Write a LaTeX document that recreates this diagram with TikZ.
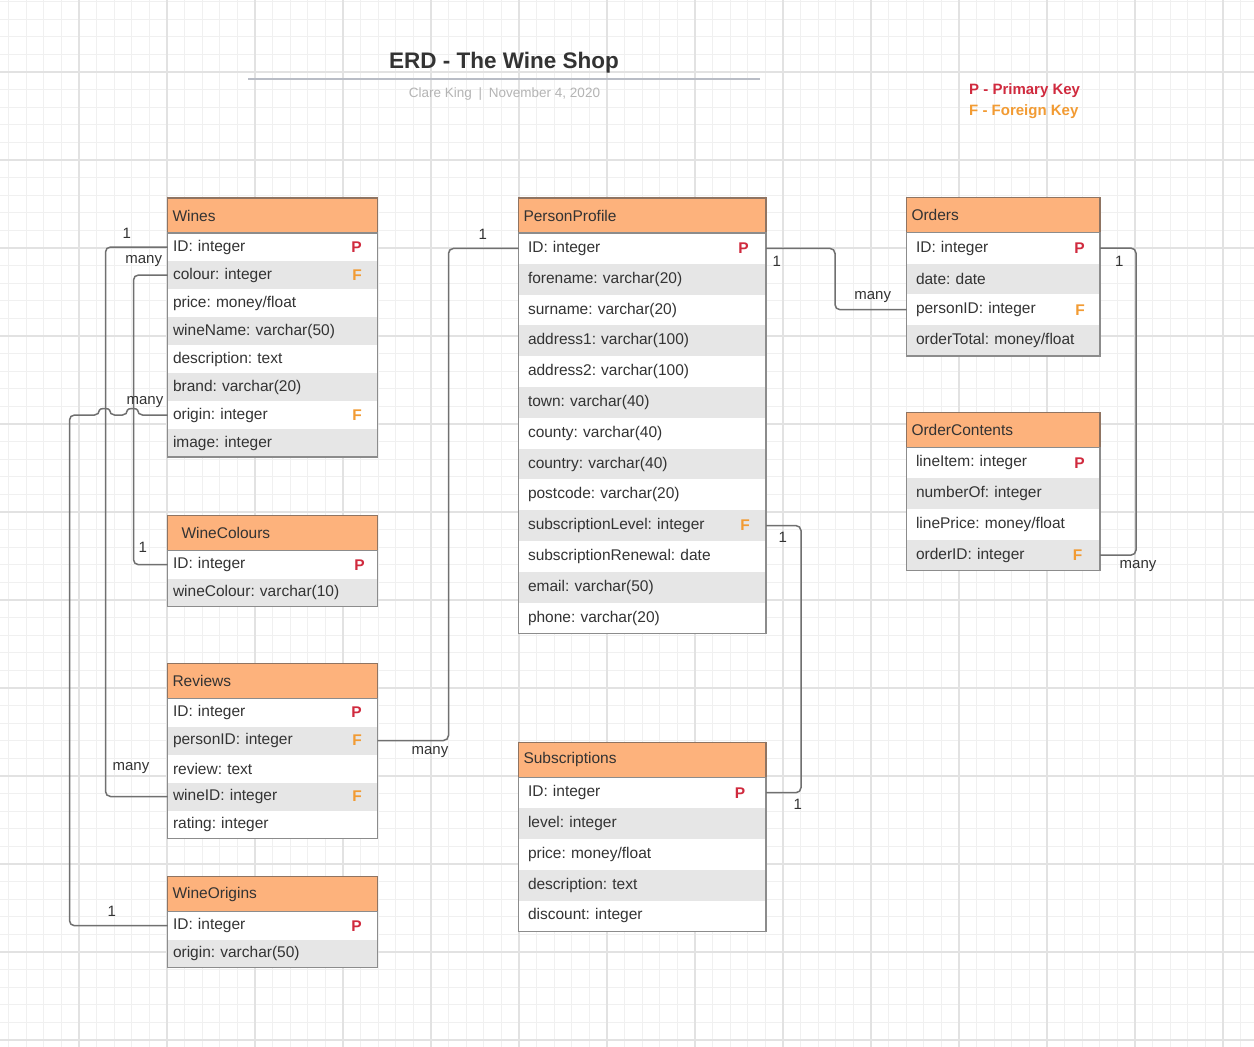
\documentclass[tikz,border=0pt]{standalone}
\usepackage{fontspec}
\setmainfont{Liberation Sans}
\usetikzlibrary{calc, positioning}
\frenchspacing
\definecolor{headfill}{HTML}{FDB27C}
\definecolor{headline}{HTML}{8F7462}
\definecolor{row1}{HTML}{FFFFFF}
\definecolor{row0}{HTML}{E6E6E6}
\definecolor{tblgray}{HTML}{8C8C8C}
\definecolor{conngray}{HTML}{707070}
\definecolor{txtgray}{HTML}{333333}
\definecolor{subgray}{HTML}{B4B4B4}
\definecolor{keyred}{HTML}{D02A3E}
\definecolor{keyorange}{HTML}{F29B33}
\definecolor{gridminor}{HTML}{F0F0F0}
\definecolor{gridmajor}{HTML}{E2E2E2}
\definecolor{titleline}{HTML}{B9BDC6}
\tikzstyle{tblhead} = [rectangle, draw=headline, fill=headfill, line width=1.5pt, outer sep=0pt, anchor=north west, minimum height=35pt, inner xsep=5pt, inner ysep=0pt, align=left, text=txtgray, font=\fontsize{15.5}{18}\selectfont]
\tikzstyle{tblrow} = [rectangle, outer sep=0pt, anchor=north west, inner ysep=0pt, align=left, text=txtgray, font=\fontsize{15.5}{18}\selectfont]
\tikzstyle{lrow} = [tblrow, text width=199pt, inner xsep=5.5pt, minimum height=28pt]
\tikzstyle{prow} = [tblrow, text width=228.5pt, inner xsep=9.5pt, minimum height=30.8pt]
\tikzstyle{orow} = [tblrow, text width=174.5pt, inner xsep=9.5pt, minimum height=30.8pt]
\tikzstyle{tblline} = [draw=tblgray, line width=1.5pt]
\tikzstyle{keyP} = [inner sep=0pt, text=keyred, font=\fontsize{15.5}{18}\selectfont\bfseries]
\tikzstyle{keyF} = [inner sep=0pt, text=keyorange, font=\fontsize{15.5}{18}\selectfont\bfseries]
\tikzstyle{conn} = [draw=conngray, line width=1.5pt, rounded corners=5pt]
\tikzstyle{card} = [inner sep=0pt, text=txtgray, font=\fontsize{15}{18}\selectfont]
\tikzstyle{jump} = [to path={.. controls ($(\tikztostart)+(0,-7)$) and ($(\tikztotarget)+(0,-7)$) .. (\tikztotarget)}]
\begin{document}
\begin{tikzpicture}[x=1pt, y=-1pt]
	\useasboundingbox [fill=white] (0,0) rectangle (1254,1047);
	% background grid
	\foreach \gx in {0,...,70} \draw [gridminor, line width=1pt] ({8.6+\gx*17.6},0) -- ++(0,1047);
	\foreach \gy in {0,...,59} \draw [gridminor, line width=1pt] (0,{1.6+\gy*17.6}) -- ++(1254,0);
	\foreach \gx in {0,...,13} \draw [gridmajor, line width=1.3pt] ({79+\gx*88},0) -- ++(0,1047);
	\foreach \gy in {0,...,11} \draw [gridmajor, line width=1.3pt] (0,{72+\gy*88}) -- ++(1254,0);

	% title and legend
	\node (title) [text=txtgray, font=\fontsize{22.5}{27}\selectfont\bfseries] at (504,63) {ERD - The Wine Shop};
	\draw [titleline, line width=2.5pt] (248,79) -- (760,79);
	\node (byline) [text=subgray, font=\fontsize{13.5}{16}\selectfont] at (504.5,94) {Clare King\enspace|\enspace November 4, 2020};
	\node (legendP) [anchor=west, inner sep=0pt, text=keyred, font=\fontsize{15}{18}\selectfont\bfseries] at (969,91) {P - Primary Key};
	\node (legendF) [anchor=west, inner sep=0pt, text=keyorange, font=\fontsize{15}{18}\selectfont\bfseries] at (969,112) {F - Foreign Key};

	% Wines
	\node (wines) [tblhead, text width=200pt] at (167.5,198) {Wines};
	\foreach \f [count=\i] in {ID: integer, colour: integer, price: money/float, wineName: varchar(50), description: text, brand: varchar(20), origin: integer, image: integer}{
		\pgfmathtruncatemacro{\rowc}{mod(\i,2)}
		\node (wines-\i) [lrow, fill=row\rowc, yshift={-(\i-1)*28pt}] at (wines.south west) {\f};
	}
	% WineColours
	\node (winecolours) [tblhead, text width=200pt] at (167.5,515.7) {\hspace*{9pt}WineColours};
	\foreach \f [count=\i] in {ID: integer, wineColour: varchar(10)}{
		\pgfmathtruncatemacro{\rowc}{mod(\i,2)}
		\node (winecolours-\i) [lrow, fill=row\rowc, yshift={-(\i-1)*28pt}] at (winecolours.south west) {\f};
	}
	% Reviews
	\node (reviews) [tblhead, text width=200pt] at (167.5,663.5) {Reviews};
	\foreach \f [count=\i] in {ID: integer, personID: integer, review: text, wineID: integer, rating: integer}{
		\pgfmathtruncatemacro{\rowc}{mod(\i,2)}
		\node (reviews-\i) [lrow, fill=row\rowc, yshift={-(\i-1)*28pt}] at (reviews.south west) {\f};
	}
	% WineOrigins
	\node (wineorigins) [tblhead, text width=200pt] at (167.5,876.7) {WineOrigins};
	\foreach \f [count=\i] in {ID: integer, origin: varchar(50)}{
		\pgfmathtruncatemacro{\rowc}{mod(\i,2)}
		\node (wineorigins-\i) [lrow, fill=row\rowc, yshift={-(\i-1)*28pt}] at (wineorigins.south west) {\f};
	}
	% PersonProfile
	\node (personprofile) [tblhead, text width=237.5pt] at (518.5,198) {PersonProfile};
	\foreach \f [count=\i] in {ID: integer, forename: varchar(20), surname: varchar(20), address1: varchar(100), address2: varchar(100), town: varchar(40), county: varchar(40), country: varchar(40), postcode: varchar(20), subscriptionLevel: integer, subscriptionRenewal: date, email: varchar(50), phone: varchar(20)}{
		\pgfmathtruncatemacro{\rowc}{mod(\i,2)}
		\node (personprofile-\i) [prow, fill=row\rowc, yshift={-(\i-1)*30.8pt}] at (personprofile.south west) {\f};
	}
	% Subscriptions
	\node (subscriptions) [tblhead, text width=237.5pt] at (518.5,742.3) {Subscriptions};
	\foreach \f [count=\i] in {ID: integer, level: integer, price: money/float, description: text, discount: integer}{
		\pgfmathtruncatemacro{\rowc}{mod(\i,2)}
		\node (subscriptions-\i) [prow, fill=row\rowc, yshift={-(\i-1)*30.8pt}] at (subscriptions.south west) {\f};
	}
	% Orders
	\node (orders) [tblhead, text width=183.5pt] at (906.5,197.7) {Orders};
	\foreach \f [count=\i] in {ID: integer, date: date, personID: integer, orderTotal: money/float}{
		\pgfmathtruncatemacro{\rowc}{mod(\i,2)}
		\node (orders-\i) [orow, fill=row\rowc, yshift={-(\i-1)*30.8pt}] at (orders.south west) {\f};
	}
	% OrderContents
	\node (ordercontents) [tblhead, text width=183.5pt] at (906.5,412.3) {OrderContents};
	\foreach \f [count=\i] in {lineItem: integer, numberOf: integer, linePrice: money/float, orderID: integer}{
		\pgfmathtruncatemacro{\rowc}{mod(\i,2)}
		\node (ordercontents-\i) [orow, fill=row\rowc, yshift={-(\i-1)*30.8pt}] at (ordercontents.south west) {\f};
	}

	% table outlines
	\draw [tblline] (wines.south west) rectangle (wines-8.south east);
	\draw [tblline] (winecolours.south west) rectangle (winecolours-2.south east);
	\draw [tblline] (reviews.south west) rectangle (reviews-5.south east);
	\draw [tblline] (wineorigins.south west) rectangle (wineorigins-2.south east);
	\draw [tblline] (personprofile.south west) rectangle (personprofile-13.south east);
	\draw [tblline] (subscriptions.south west) rectangle (subscriptions-5.south east);
	\draw [tblline] (orders.south west) rectangle (orders-4.south east);
	\draw [tblline] (ordercontents.south west) rectangle (ordercontents-4.south east);

	% keys
	\foreach \r/\k/\d in {wines-1/P/15.5pt, wines-2/F/15.5pt, wines-7/F/15.5pt, winecolours-1/P/12.5pt, reviews-1/P/15.5pt, reviews-2/F/15.5pt, reviews-4/F/15.5pt, wineorigins-1/P/15.5pt, personprofile-1/P/17pt, personprofile-10/F/16pt, subscriptions-1/P/20.5pt, orders-1/P/15pt, orders-3/F/15pt, ordercontents-1/P/15pt, ordercontents-4/F/17.5pt}
		\node (\r-key) [key\k, left=\d of \r.east] {\k};

	% connectors
	\draw [conn] (wines-1.west) -- ++(-62,0) |- (reviews-4.west);
	\draw [conn] (wines-2.west) -- ++(-34,0) |- (winecolours-1.west);
	\draw [conn] (wines-7.west) -- ++(-30,0) to[jump] ++(-10,0) -- ++(-18,0) to[jump] ++(-10,0) -- ++(-30,0) |- (wineorigins-1.west);
	\draw [conn] (personprofile-1.west) -- ++(-70,0) |- (reviews-2.east);
	\draw [conn] (personprofile-1.east) -- ++(69,0) |- (orders-3.west);
	\draw [conn] (personprofile-10.east) -- ++(35,0) |- (subscriptions-1.east);
	\draw [conn] (orders-1.east) -- ++(36,0) |- (ordercontents-4.east);

	% cardinalities
	\node (cWinesID) [card] at (126.7,233) {1};
	\node (cWinesColour) [card] at (143.7,261) {many};
	\node (cWinesOrigin) [card] at (145,402) {many};
	\node (cColoursID) [card] at (142.7,547.7) {1};
	\node (cReviewsWine) [card] at (131,767.7) {many};
	\node (cOriginsID) [card] at (111.7,911) {1};
	\node (cPersonLeft) [card] at (482.7,234) {1};
	\node (cReviewsPerson) [card] at (430,752) {many};
	\node (cPersonRight) [card] at (776.7,261) {1};
	\node (cOrdersPerson) [card] at (872.7,296.7) {many};
	\node (cPersonSub) [card] at (782.7,537.7) {1};
	\node (cSubsID) [card] at (797.7,804) {1};
	\node (cOrdersID) [card] at (1119.3,261) {1};
	\node (cContentsOrder) [card] at (1138,566) {many};
\end{tikzpicture}
\end{document}
